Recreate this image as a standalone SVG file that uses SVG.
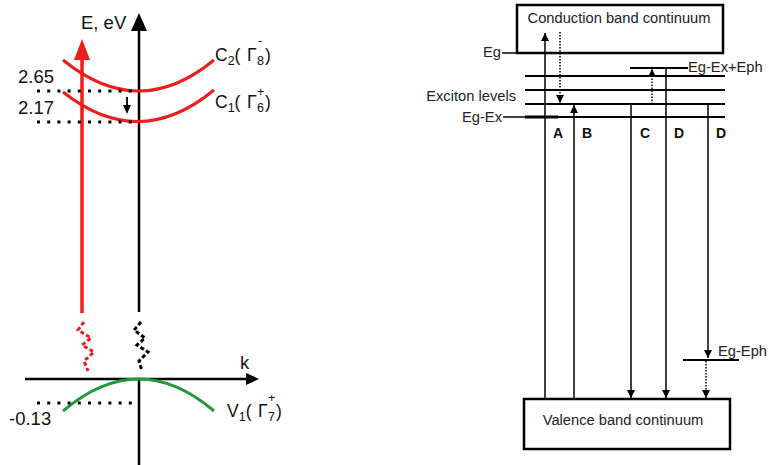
<svg xmlns="http://www.w3.org/2000/svg" width="769" height="465" viewBox="0 0 769 465">
  <style>
    .t { font-family: "Liberation Sans", Arial, sans-serif; fill: #111; }
    .big { font-size: 18.5px; }
    .lab { font-size: 17.5px; }
    .sub { font-size: 12.5px; }
    .sm { font-size: 14.7px; fill: #222; }
    .bold { font-size: 14px; font-weight: bold; fill: #111; }
    .axis { stroke: #000; stroke-width: 2.5; fill: none; }
    .band { stroke: #ee1c1c; stroke-width: 3; fill: none; }
    .vband { stroke: #1f9a3c; stroke-width: 3; fill: none; }
    .dots { stroke: #000; stroke-width: 3; stroke-dasharray: 3 7.2; fill: none; }
    .wig { stroke-width: 3; stroke-dasharray: 4 2.5; fill: none; stroke-linejoin: miter; }
    .lvl { stroke: #000; stroke-width: 2; fill: none; }
    .tr { stroke: #000; stroke-width: 1.5; fill: none; }
    .dot-tr { stroke: #000; stroke-width: 1.5; stroke-dasharray: 1.5 1.5; fill: none; }
    .box { stroke: #000; stroke-width: 2.5; fill: #fff; }
  </style>
  <defs>
    <marker id="ah" viewBox="0 0 10 10" refX="10" refY="5" markerWidth="8" markerHeight="8" markerUnits="userSpaceOnUse" orient="auto">
      <path d="M0,0 L10,5 L0,10 z" fill="#000"/>
    </marker>
  </defs>

  <!-- Left panel: band structure E(k) -->
  <g id="energy-axis">
    <line class="axis" x1="139" y1="28" x2="139" y2="312"/>
    <line class="axis" x1="139" y1="379" x2="139" y2="465"/>
    <path d="M139,13 L147,31 L131,31 z" fill="#000"/>
    <polyline class="wig" stroke="#000" points="141,322 134,330 145,338 137,345 148,352 139,361 142,371"/>
    <text class="t big" x="81" y="29">E, eV</text>
  </g>
  <g id="k-axis">
    <line class="axis" x1="25" y1="379" x2="250" y2="379"/>
    <path d="M259,379 L246,373 L246,385 z" fill="#000"/>
    <text class="t big" x="240" y="369">k</text>
  </g>

  <g id="excitation">
    <line stroke="#ee1c1c" stroke-width="3.5" x1="82" y1="313" x2="82" y2="56"/>
    <path d="M82,39 L90,60 L74,60 z" fill="#ee1c1c"/>
    <polyline class="wig" stroke="#ee1c1c" points="84,322 78,330 91,338 82,345 94,352 84,361 88,371"/>
  </g>

  <g id="c2">
    <path class="band" d="M63,60 Q139,122 214,60"/>
    <line class="dots" x1="37" y1="91" x2="139" y2="91"/>
    <text class="t big" x="18" y="83">2.65</text>
    <text class="t lab" x="215" y="61">C<tspan class="sub" dy="4">2</tspan><tspan dy="-4">(</tspan><tspan x="247">Γ</tspan><tspan class="sub" x="257" dy="4">8</tspan><tspan x="265" dy="-4">)</tspan><tspan class="sub" x="258" y="45">-</tspan></text>
  </g>

  <g id="c1">
    <path class="band" d="M63,92 Q139,152 214,90"/>
    <line class="dots" x1="37" y1="122" x2="139" y2="122"/>
    <text class="t big" x="18" y="114">2.17</text>
    <text class="t lab" x="215" y="108">C<tspan class="sub" dy="4">1</tspan><tspan dy="-4">(</tspan><tspan x="247">Γ</tspan><tspan class="sub" x="257" dy="4">6</tspan><tspan x="265" dy="-4">)</tspan><tspan class="sub" x="257" y="96">+</tspan></text>
  </g>

  <g id="relaxation">
    <line stroke="#000" stroke-width="1.8" x1="127" y1="97" x2="127" y2="106"/>
    <path d="M127,114 L131,105 L123,105 z" fill="#000"/>
  </g>

  <g id="v1">
    <path class="vband" d="M63,411 Q139,347 214,411"/>
    <line class="dots" x1="37" y1="403" x2="139" y2="403"/>
    <text class="t big" x="9" y="425">-0.13</text>
    <text class="t lab" x="227" y="417">V<tspan class="sub" dy="4">1</tspan><tspan dy="-4">(</tspan><tspan x="258">Γ</tspan><tspan class="sub" x="268" dy="4">7</tspan><tspan x="276" dy="-4">)</tspan><tspan class="sub" x="268" y="402">+</tspan></text>
  </g>

  <!-- Right panel: exciton level scheme -->
  <g id="conduction-band">
    <rect class="box" x="517" y="5" width="206" height="48"/>
    <text class="t sm" x="619" y="23" text-anchor="middle">Conduction band continuum</text>
    <line class="tr" x1="502" y1="53" x2="517" y2="53"/>
    <text class="t sm" x="501" y="57" text-anchor="end">Eg</text>
  </g>

  <g id="valence-band">
    <rect class="box" x="524" y="399" width="206" height="50"/>
    <text class="t sm" x="623" y="425" text-anchor="middle">Valence band continuum</text>
  </g>

  <g id="exciton-levels">
    <line class="lvl" x1="525" y1="76" x2="725" y2="76"/>
    <line class="lvl" x1="525" y1="90" x2="725" y2="90"/>
    <line class="lvl" x1="525" y1="104" x2="725" y2="104"/>
    <line class="lvl" x1="525" y1="117" x2="725" y2="117"/>
    <line class="tr" x1="503" y1="117" x2="525" y2="117"/>
    <line stroke="#000" stroke-width="3" x1="525" y1="117" x2="558" y2="117"/>
    <text class="t sm" x="516" y="101" text-anchor="end">Exciton levels</text>
    <text class="t sm" x="502" y="122" text-anchor="end">Eg-Ex</text>
  </g>

  <g id="phonon-levels">
    <line class="lvl" x1="630" y1="68" x2="688" y2="68"/>
    <text class="t sm" x="688" y="72">Eg-Ex+Eph</text>
    <line class="lvl" x1="683" y1="360" x2="739" y2="360"/>
    <text class="t sm" x="718" y="356">Eg-Eph</text>
  </g>

  <g id="transitions">
    <line class="tr" x1="545" y1="398" x2="545" y2="33" marker-end="url(#ah)"/>
    <line class="dot-tr" x1="560" y1="32" x2="560" y2="103" marker-end="url(#ah)"/>
    <line class="tr" x1="574" y1="398" x2="574" y2="105" marker-end="url(#ah)"/>
    <line class="tr" x1="631" y1="104" x2="631" y2="398" marker-end="url(#ah)"/>
    <line class="dot-tr" x1="652" y1="104" x2="652" y2="69" marker-end="url(#ah)"/>
    <line class="tr" x1="666" y1="68" x2="666" y2="398" marker-end="url(#ah)"/>
    <line class="tr" x1="708" y1="104" x2="708" y2="358" marker-end="url(#ah)"/>
    <line class="dot-tr" x1="706" y1="361" x2="706" y2="398" marker-end="url(#ah)"/>
  </g>

  <g id="transition-labels">
    <text class="t bold" x="553" y="138">A</text>
    <text class="t bold" x="582" y="138">B</text>
    <text class="t bold" x="640" y="138">C</text>
    <text class="t bold" x="674" y="138">D</text>
    <text class="t bold" x="716" y="138">D</text>
  </g>
</svg>
